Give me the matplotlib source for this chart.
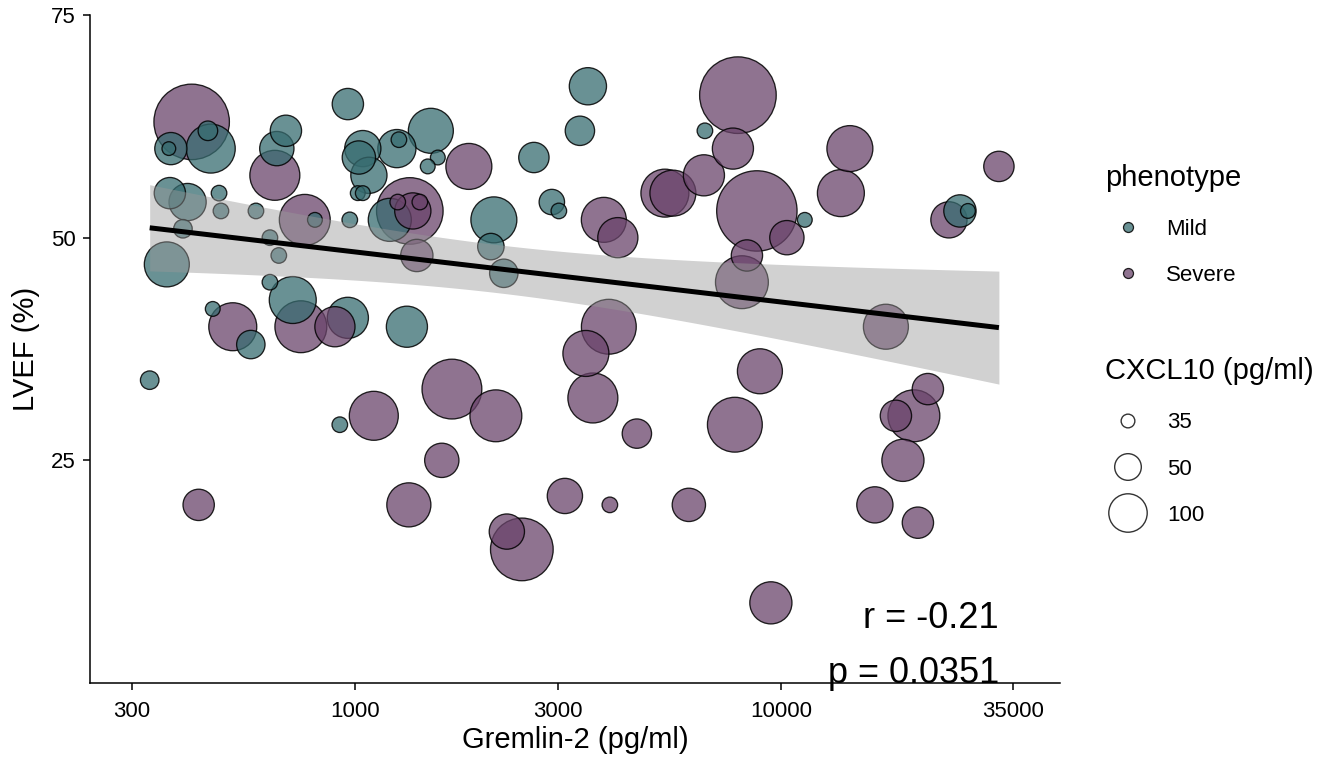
import numpy as np
import matplotlib
matplotlib.use("Agg")
import matplotlib.pyplot as plt
from matplotlib.ticker import FixedLocator, FixedFormatter, NullLocator

plt.rcParams['font.family'] = ['Liberation Sans', 'DejaVu Sans']

# ---------------- data ----------------
mild_gremlin = [459, 452, 370, 366, 963, 689, 656, 1044, 1022, 1079, 1255, 1269,
                1016, 1044, 1566, 1483, 368, 405, 480, 485, 586, 395, 806, 973,
                632, 663, 362, 1208, 632, 715, 963, 1325, 464, 570, 1508, 3524,
                3375, 2632, 2120, 2086, 2237, 2900, 3012, 6633, 11380, 26320,
                27480, 330, 922]
mild_lvef = [60, 62, 60, 60, 65, 62, 60, 60, 59, 57, 60, 61,
             55, 55, 59, 58, 55, 54, 55, 53, 53, 51, 52, 52,
             50, 48, 47, 52, 45, 43, 41, 40, 42, 38, 62, 67,
             62, 59, 52, 49, 46, 54, 53, 62, 52, 53,
             53, 34, 29]
mild_cxcl10 = [234, 38.5, 67, 35, 63.6, 63.6, 76, 86, 71.5, 86, 98.5, 35.5,
               35.2, 35.2, 35.2, 35.2, 63.6, 92, 35.5, 35.5, 35.5, 37.5, 35.2, 35.5,
               35.5, 35.5, 166, 142, 35.5, 196, 122, 122, 35.2, 54.5, 166, 92,
               57.2, 60.3, 180, 49.6, 54.5, 47.4, 35.5, 35.5, 35.2, 67.4,
               35.2, 37.5, 35.5]

severe_gremlin = [414, 649, 763, 1346, 1368, 1261, 1421, 1398, 747, 898, 517, 1852,
                  3841, 4143, 5343, 5579, 6597, 7928, 7716, 8783, 3946, 3486, 8101,
                  8323, 10330, 14520, 13830, 32490, 24800, 17640, 8928, 1108, 430,
                  1339, 1690, 1600, 2143, 3620, 4592, 7798, 3112, 3968, 6081, 2274,
                  2466, 22130, 20520, 18620, 19340, 16620, 20970, 9474]
severe_lvef = [63, 57, 52, 53, 53, 54, 54, 48, 40, 40, 40, 58,
               52, 50, 55, 55, 57, 66, 60, 53, 40, 37, 45,
               48, 50, 60, 55, 58, 52, 40, 35, 30, 20,
               20, 33, 25, 30, 32, 28, 29, 21, 20, 20, 17,
               15, 33, 30, 30, 25, 20, 18, 9]
severe_cxcl10 = [4400, 256, 279, 1460, 86, 35.5, 35.5, 67.4, 306, 113.5, 214, 180,
                 166, 113.5, 214, 180, 122, 5100, 122, 8500, 408, 180, 336,
                 63.6, 76, 180, 196, 60.3, 86, 166, 166, 234, 63.6,
                 154, 680, 76, 306, 256, 57.2, 408, 80.8, 35.5, 71.5, 80.8,
                 933, 63.6, 306, 63.6, 132, 86, 63.6, 132]

phenotypes = ["Mild", "Severe"]
x_ticks = [300, 1000, 3000, 10000, 35000]
y_ticks = [25, 50, 75]
size_breaks = [35, 50, 100]
r_label = "r = -0.21"
p_label = "p = 0.0351"

# ---------------- styling ----------------
W, H, DPI = 1344, 768, 100
col_mild = (55/255, 108/255, 112/255)
col_severe = (106/255, 68/255, 107/255)
ALPHA = 0.75


def diam_px(v):
    v = np.maximum(np.asarray(v, float), 35.0)
    return 15 + 24.0 * np.log(v / 35.0) ** 0.6


def msize(v, lw_px=1.3):
    d = diam_px(v) - lw_px
    return (d * 72.0 / DPI) ** 2


fig = plt.figure(figsize=(W / DPI, H / DPI), dpi=DPI)
ax = fig.add_axes([90 / W, 1 - 683 / H, (1060 - 90) / W, (683 - 15) / H])

gx = np.array(mild_gremlin + severe_gremlin, float)
gy = np.array(mild_lvef + severe_lvef, float)
gv = np.array(mild_cxcl10 + severe_cxcl10, float)
gc = [col_mild] * len(mild_gremlin) + [col_severe] * len(severe_gremlin)
order = np.argsort(-diam_px(gv), kind="stable")

fc = [(*gc[i], ALPHA) for i in order]
ec = [(0, 0, 0, 0.85)] * len(order)
ax.scatter(gx[order], gy[order], s=msize(gv[order]), facecolors=fc,
           edgecolors=ec, linewidths=0.95, zorder=2)

# linear fit on log10 scale with 95% CI (like geom_smooth(method="lm"))
lx = np.log10(gx)
n = len(lx)
b1, b0 = np.polyfit(lx, gy, 1)
res = gy - (b0 + b1 * lx)
s = np.sqrt(np.sum(res ** 2) / (n - 2))
sxx = np.sum((lx - lx.mean()) ** 2)
grid = np.linspace(lx.min(), lx.max(), 100)
fit = b0 + b1 * grid
se = s * np.sqrt(1.0 / n + (grid - lx.mean()) ** 2 / sxx)
tcrit = 1.984
ax.fill_between(10 ** grid, fit - tcrit * se, fit + tcrit * se,
                color="#999999", alpha=0.45, lw=0, zorder=3)
ax.plot(10 ** grid, fit, color="black", lw=3.6, zorder=4, solid_capstyle="butt")

ax.set_xscale("log")
ax.set_xlim(239, 45200)
ax.set_ylim(0, 75)
ax.xaxis.set_major_locator(FixedLocator(x_ticks))
ax.xaxis.set_major_formatter(FixedFormatter([str(t) for t in x_ticks]))
ax.xaxis.set_minor_locator(NullLocator())
ax.yaxis.set_major_locator(FixedLocator(y_ticks))
ax.yaxis.set_major_formatter(FixedFormatter([str(t) for t in y_ticks]))

for sp in ["top", "right"]:
    ax.spines[sp].set_visible(False)
for sp in ["left", "bottom"]:
    ax.spines[sp].set_linewidth(1.1)
    ax.spines[sp].set_color("black")
ax.tick_params(axis="both", direction="out", length=5, width=1.1,
               colors="black", labelsize=16)
ax.tick_params(axis="x", pad=8)
ax.tick_params(axis="y", pad=5)
ax.set_xlabel("Gremlin-2 (pg/ml)", fontsize=21, labelpad=3)
ax.set_ylabel("LVEF (%)", fontsize=21, labelpad=8)

xmax = gx.max()
ax.text(xmax, 7.25, r_label, ha="right", va="center", fontsize=26,
        zorder=6, clip_on=False)
ax.text(xmax, 1.07, p_label, ha="right", va="center", fontsize=26,
        zorder=6, clip_on=False)

# ---------------- legends (drawn in figure-pixel coordinates) ----------------
lax = fig.add_axes([0, 0, 1, 1], zorder=5)
lax.set_xlim(0, W)
lax.set_ylim(H, 0)
lax.axis("off")
lax.patch.set_alpha(0)

lax.text(1105, 186, "phenotype", fontsize=21, ha="left", va="baseline")
key_y = [227, 273]
key_base = [235, 281]
for lab, col, yk, yb in zip(phenotypes, [col_mild, col_severe], key_y, key_base):
    lax.scatter([1128], [yk], s=(10 * 0.72) ** 2, facecolors=[(*col, ALPHA)],
                edgecolors=[(0, 0, 0, 0.85)], linewidths=0.9)
    lax.text(1166, yb, lab, fontsize=16, ha="left", va="baseline")

lax.text(1105, 379, "CXCL10 (pg/ml)", fontsize=21, ha="left", va="baseline")
size_y = [421, 467, 513]
size_base = [428, 475, 521]
for b, yk, yb in zip(size_breaks, size_y, size_base):
    lax.scatter([1128], [yk], s=msize(b), facecolors="none",
                edgecolors="#333333", linewidths=1.0)
    lax.text(1167, yb, str(b), fontsize=16, ha="left", va="baseline")

fig.savefig("out.png", dpi=DPI)
